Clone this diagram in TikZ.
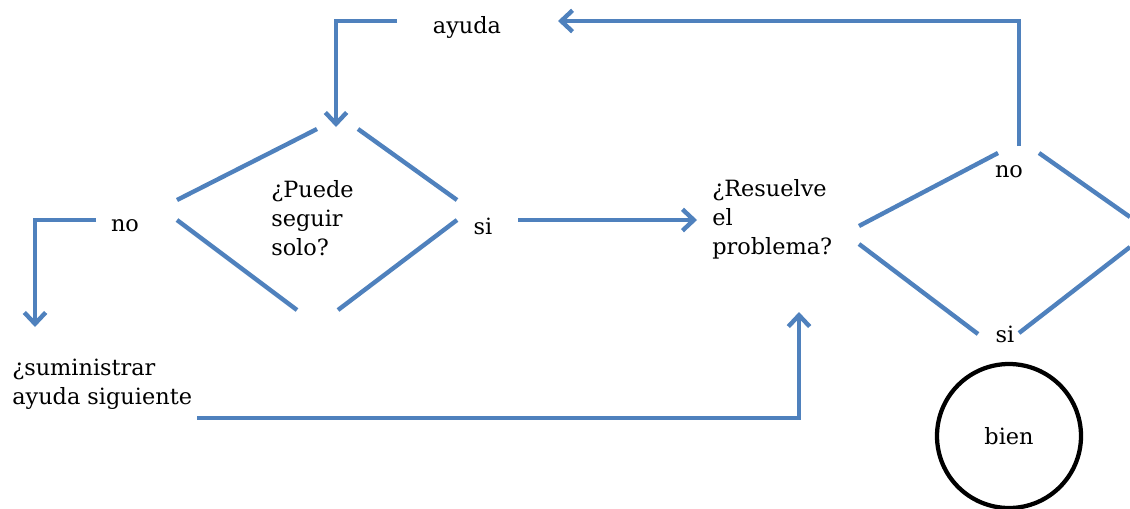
\documentclass[tikz,border=0pt]{standalone}
\usepackage{fontspec}
\setmainfont{DejaVu Serif}
\usetikzlibrary{arrows.meta}
\definecolor{flow}{RGB}{79,129,189}
\begin{document}
\begin{tikzpicture}[x=0.75pt,y=-0.75pt,
  flowline/.style={draw=flow,line width=3.3pt},
  arr/.style={flowline,-{Straight Barb[length=8.5pt,width=16pt]}},
  txt/.style={font=\fontsize{16.8}{21.75}\selectfont,inner sep=0pt,align=left},
  endnode/.style={draw=black,line width=3.2pt,circle,minimum size=108pt,inner sep=0pt,font=\fontsize{16.8}{21.75}\selectfont}]
\useasboundingbox (0,0) rectangle (1130,508);
% text nodes
\node[txt] (ayuda) at (467,27) {ayuda};
\node[txt,anchor=west] (q1) at (271,218) {¿Puede\\seguir\\solo?};
\node[txt] (no1) at (125,226) {no};
\node[txt] (si1) at (483,226) {si};
\node[txt,anchor=west] (q2) at (712,219) {¿Resuelve\\el\\problema?};
\node[txt] (no2) at (1009,172) {no};
\node[txt] (si2) at (1005,334) {si};
\node[txt,anchor=west] (sumi) at (12,384) {¿suministrar\\ayuda siguiente};
\node[endnode] (bien) at (1009,436) {bien};
% diamond 1
\draw[flowline] (177,200) -- (317,129);
\draw[flowline] (358,129) -- (457,200);
\draw[flowline] (177,220) -- (297,310);
\draw[flowline] (338,310) -- (457,220);
% diamond 2
\draw[flowline] (859,226) -- (998,153);
\draw[flowline] (1039,153) -- (1130,217);
\draw[flowline] (859,244) -- (978,334);
\draw[flowline] (1019,333) -- (1130,247);
% connector end points
\coordinate (ayudaL) at (397,21);
\coordinate (q1top) at (336,127);
\coordinate (no1L) at (96,220);
\coordinate (sumiTop) at (35,327);
\coordinate (si1R) at (518,220);
\coordinate (q2L) at (697,220);
\coordinate (sumiR) at (197,418);
\coordinate (q2bot) at (799,312);
\coordinate (no2top) at (1019,146);
\coordinate (ayudaR) at (558,21);
% connectors
\draw[arr] (ayudaL) -| (q1top);
\draw[arr] (no1L) -| (sumiTop);
\draw[arr] (si1R) -- (q2L);
\draw[arr] (sumiR) -| (q2bot);
\draw[arr] (no2top) |- (ayudaR);
\end{tikzpicture}
\end{document}
